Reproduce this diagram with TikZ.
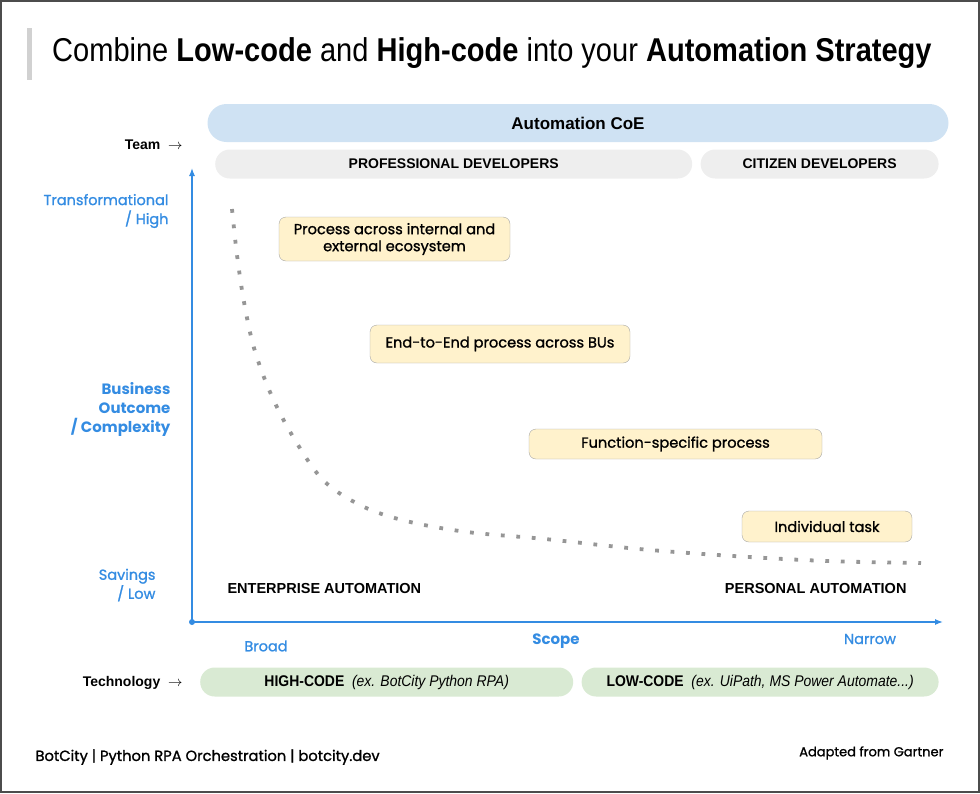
\documentclass[tikz,border=0pt]{standalone}
\usepackage{fontspec}
\setmainfont{Poppins}[UprightFeatures={FakeBold=1.2}]
\newfontfamily\arialfont{Liberation Sans}
\newfontfamily\condfont[FakeStretch=0.88]{Liberation Sans}
\newfontfamily\codefont[FakeStretch=0.9]{Liberation Sans}
\usetikzlibrary{positioning, arrows.meta, calc}

\definecolor{axisblue}{RGB}{52,140,226}
\definecolor{coeblue}{RGB}{207,226,243}
\definecolor{devgray}{RGB}{238,238,238}
\definecolor{codegreen}{RGB}{217,234,211}
\definecolor{taskfill}{RGB}{255,242,204}
\definecolor{curvegray}{RGB}{150,150,150}

\begin{document}
\begin{tikzpicture}[
            x=1pt, y=-1pt,
            node distance=8pt,
            band/.style={rounded corners=14.5pt, minimum height=29pt, inner sep=0pt, align=center},
            devband/.style={band, fill=devgray, font=\arialfont\bfseries\fontsize{14}{16}\selectfont},
            codeband/.style={band, fill=codegreen, font=\codefont\fontsize{15.5}{18}\selectfont},
            task/.style={draw=black!35, fill=taskfill, rounded corners=7pt, inner sep=0pt, align=center, font=\fontsize{14.6}{17}\selectfont},
            axislabel/.style={text=axisblue, align=right, anchor=east, font=\fontsize{14.5}{19}\selectfont},
            sidelabel/.style={anchor=east, font=\arialfont\bfseries\fontsize{14}{17}\selectfont},
            zonelabel/.style={font=\arialfont\bfseries\fontsize{14.5}{17}\selectfont},
            axis/.style={-{Latex[length=8pt, width=6pt]}, draw=axisblue, line width=1.3pt},
            curve/.style={draw=curvegray, line width=3.8pt, dash pattern=on 3.8pt off 11.7pt}
            ]

            \useasboundingbox (0,0) rectangle (980,793);
            \draw[line width=2pt, black!70] (1,1) rectangle (979,792);

            % Title
            \fill[black!18] (27,28) rectangle (32,80);
            \node[anchor=west, inner sep=0pt, font=\condfont\fontsize{33}{38}\selectfont] (title) at (52,53)
                {Combine \textbf{Low-code} and \textbf{High-code} into your \textbf{Automation Strategy}};

            % Team
            \node[band, rounded corners=19pt, minimum height=38pt, minimum width=741pt, fill=coeblue, font=\arialfont\bfseries\fontsize{17}{20}\selectfont] (coe) at (578,123) {Automation CoE};
            \node[devband, minimum width=477pt, anchor=west] (prodev) at (215,164) {PROFESSIONAL DEVELOPERS};
            \node[devband, minimum width=238pt, right=8pt of prodev] (citdev) {CITIZEN DEVELOPERS};
            \node[sidelabel] (team) at (186,145) {Team \ $\rightarrow$};

            % Axes
            \coordinate (origin) at (192,622);
            \coordinate (ytip) at (192,168);
            \coordinate (xtip) at (943,622);
            \draw[axis] (origin) -- (ytip);
            \draw[axis] (origin) -- (xtip);
            \fill[axisblue] (origin) circle (3pt);

            \node[axislabel] (high) at (172,211) {Transformational\\/ High};
            \node[axislabel, font=\bfseries\fontsize{15}{19}\selectfont] (outcome) at (174,409) {Business\\Outcome\\/ Complexity};
            \node[axislabel] (low) at (159,585) {Savings\\/ Low};

            \node[text=axisblue, font=\fontsize{14.5}{17}\selectfont] (broad) at (266,646) {Broad};
            \node[text=axisblue, font=\bfseries\fontsize{15}{18}\selectfont] (scope) at (556,641) {Scope};
            \node[text=axisblue, font=\fontsize{14.5}{17}\selectfont] (narrow) at (870,639) {Narrow};

            % Curve
            \draw[curve] plot[smooth, tension=0.55] coordinates {(232,209) (237,255) (244,302) (254,348) (270,392) (292,435) (323,480) (362,506) (406,521) (467,532) (545,539) (639,549) (733,556) (827,561) (921,563)};

            % Tasks
            \node[task, minimum width=231pt, minimum height=44pt] (eco) at (394.5,239) {Process across internal and\\external ecosystem};
            \node[task, minimum width=260pt, minimum height=38pt] (e2e) at (500,344) {End-to-End process across BUs};
            \node[task, minimum width=293pt, minimum height=30pt] (func) at (675.5,444) {Function-specific process};
            \node[task, minimum width=170pt, minimum height=31pt] (indiv) at (827,526.5) {Individual task};

            \node[zonelabel, anchor=west] (enterprise) at (224,588) {ENTERPRISE AUTOMATION};
            \node[zonelabel, anchor=east] (personal) at (910,588) {PERSONAL AUTOMATION};

            % Technology
            \node[codeband, minimum width=373pt, anchor=west] (hicode) at (200,682) {\textbf{HIGH-CODE} \ \textit{(ex. BotCity Python RPA)}};
            \node[codeband, minimum width=357pt, right=8pt of hicode] (locode) {\textbf{LOW-CODE} \ \textit{(ex. UiPath, MS Power Automate...)}};
            \node[sidelabel] (tech) at (186,683) {Technology \ $\rightarrow$};

            % Footer
            \node[anchor=west, font=\fontsize{14.7}{17}\selectfont] (footer) at (32,757) {BotCity | Python RPA Orchestration | botcity.dev};
            \node[anchor=east, font=\fontsize{13}{16}\selectfont] (source) at (947,753) {Adapted from Gartner};

        \end{tikzpicture}
\end{document}
